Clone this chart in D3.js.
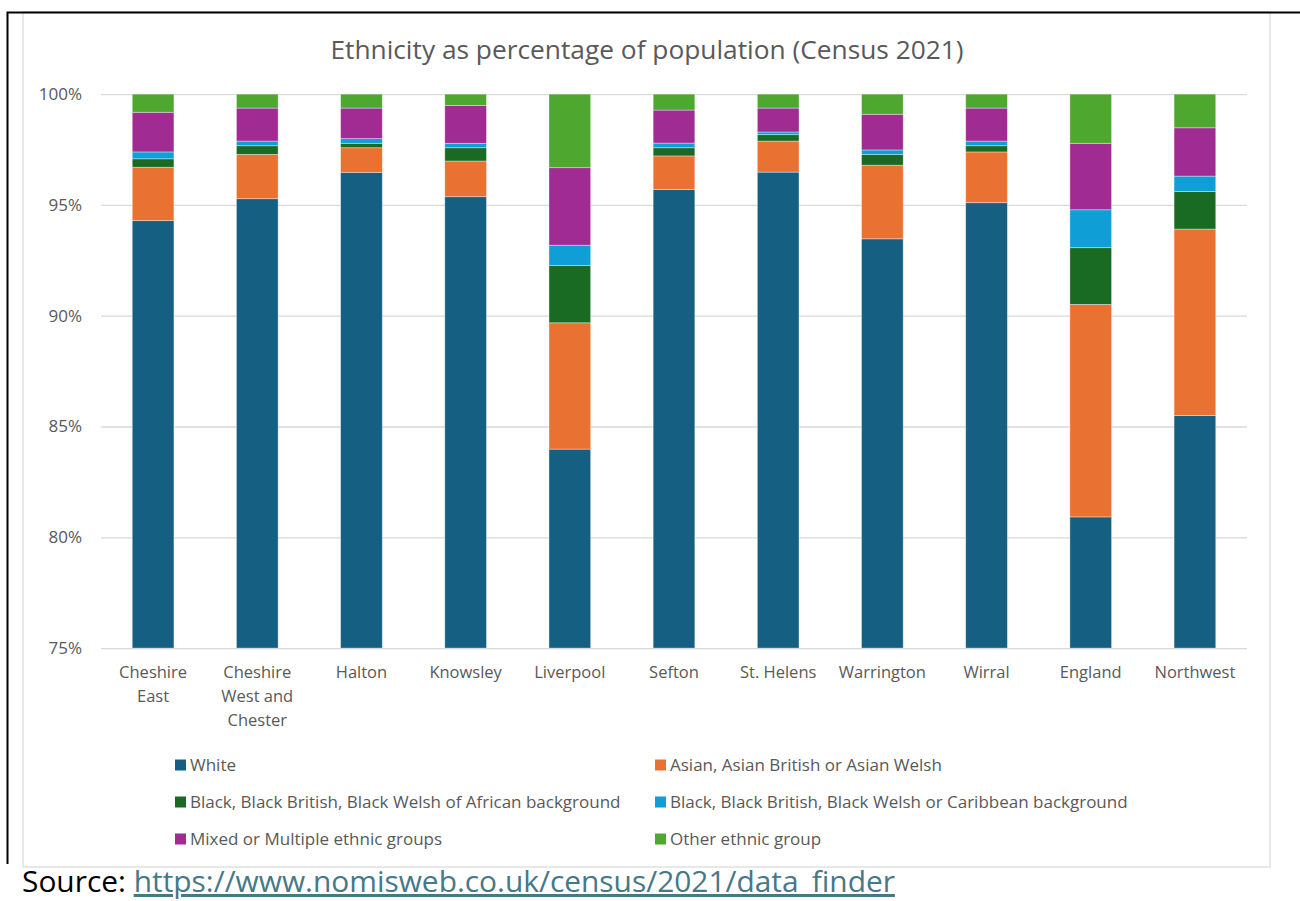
<!DOCTYPE html>
<html>
<head>
<meta charset="utf-8">
<script src="https://cdn.jsdelivr.net/npm/d3@7"></script>
<style>
  html, body { margin: 0; padding: 0; background: #fff; }
  svg { display: block; font-family: "Open Sans", "Noto Sans", sans-serif; }
</style>
</head>
<body>
<svg id="chart" width="1300" height="901"></svg>
<script>
// Census 2021 ethnicity shares (% of population) per area
const areas = ["Cheshire East", "Cheshire West and Chester", "Halton", "Knowsley", "Liverpool",
               "Sefton", "St. Helens", "Warrington", "Wirral", "England", "Northwest"];
const areaLines = [["Cheshire", "East"], ["Cheshire", "West and", "Chester"], ["Halton"], ["Knowsley"],
                   ["Liverpool"], ["Sefton"], ["St. Helens"], ["Warrington"], ["Wirral"], ["England"], ["Northwest"]];

const groups = ["White", "Asian, Asian British or Asian Welsh",
                "Black, Black British, Black Welsh of African background",
                "Black, Black British, Black Welsh or Caribbean background",
                "Mixed or Multiple ethnic groups", "Other ethnic group"];

const white     = [94.29, 95.28, 96.47, 95.37, 83.98, 95.69, 96.48, 93.47, 95.10, 80.92, 85.50];
const asian     = [2.41, 2.00, 1.11, 1.61, 5.70, 1.52, 1.40, 3.32, 2.29, 9.59, 8.41];
const african   = [0.38, 0.39, 0.20, 0.60, 2.58, 0.37, 0.29, 0.48, 0.28, 2.56, 1.69];
const caribbean = [0.31, 0.21, 0.21, 0.20, 0.92, 0.21, 0.12, 0.21, 0.21, 1.71, 0.70];
const mixed     = [1.79, 1.49, 1.38, 1.70, 3.50, 1.49, 1.08, 1.61, 1.49, 3.00, 2.18];
const other     = [0.82, 0.63, 0.63, 0.52, 3.32, 0.72, 0.63, 0.91, 0.63, 2.22, 1.52];

const yTicks = [75, 80, 85, 90, 95, 100];
const colors = ["#156082", "#E97132", "#196B24", "#0F9ED5", "#A02B93", "#4EA72E"];

const seriesValues = [white, asian, african, caribbean, mixed, other];
const rows = areas.map((a, i) => {
  const r = { area: a };
  groups.forEach((g, k) => { r[g] = seriesValues[k][i]; });
  return r;
});

const svg = d3.select("#chart");
const textColor = "#595959";

// frame
svg.append("rect").attr("x", 23).attr("y", 12).attr("width", 1247).attr("height", 855)
  .attr("fill", "#fff").attr("stroke", "#d9d9d9").attr("stroke-width", 1.2);
svg.append("path").attr("d", "M7.5,864 V12.5 H1300").attr("fill", "none")
  .attr("stroke", "#000").attr("stroke-width", 2);

const plotLeft = 101, plotRight = 1247, plotTop = 94.1, plotBottom = 648.1;

const x = d3.scaleBand().domain(areas).range([plotLeft, plotRight]).paddingInner(0.6).paddingOuter(0.3);
const y = d3.scaleLinear().domain([75, 100]).range([plotBottom, plotTop]);

// title
svg.append("text").attr("x", 647).attr("y", 59).attr("text-anchor", "middle")
  .attr("fill", textColor).attr("font-size", 26.3)
  .text("Ethnicity as percentage of population (Census 2021)");

// gridlines + y labels
const yAxis = d3.axisLeft(y).tickValues(yTicks).tickSize(-(plotRight - plotLeft)).tickPadding(19)
  .tickFormat(d => d + "%");
const gy = svg.append("g").attr("transform", `translate(${plotLeft},0)`).call(yAxis);
gy.select(".domain").remove();
gy.selectAll(".tick line").attr("stroke", "#d9d9d9").attr("stroke-width", 1.3);
gy.selectAll(".tick text").attr("fill", textColor).attr("font-size", 17)
  .attr("font-family", "\"Open Sans\", sans-serif");

// stacked bars
const stack = d3.stack().keys(groups).offset(d3.stackOffsetNone);
const stacked = stack(rows);
const clipId = "plotclip";
svg.append("clipPath").attr("id", clipId).append("rect")
  .attr("x", plotLeft).attr("y", plotTop - 1).attr("width", plotRight - plotLeft).attr("height", plotBottom - plotTop + 1);

const barsG = svg.append("g").attr("clip-path", `url(#${clipId})`);
barsG.selectAll("g.series").data(stacked).join("g")
  .attr("class", "series")
  .attr("fill", (d, i) => colors[i])
  .selectAll("rect").data(d => d).join("rect")
  .attr("x", d => x(d.data.area))
  .attr("width", x.bandwidth())
  .attr("y", d => y(Math.min(100, d[1])))
  .attr("height", d => Math.max(0, y(Math.max(75, d[0])) - y(Math.min(100, d[1]))))
  .attr("stroke", "#ffffff").attr("stroke-opacity", 0.45).attr("stroke-width", 0.8);

// x labels
const xl = svg.append("g");
areas.forEach((a, i) => {
  const cx = x(a) + x.bandwidth() / 2;
  const t = xl.append("text").attr("x", cx).attr("y", 678)
    .attr("text-anchor", "middle").attr("fill", textColor).attr("font-size", 16.5);
  areaLines[i].forEach((ln, j) => {
    t.append("tspan").attr("x", cx).attr("dy", j === 0 ? 0 : 24).text(ln);
  });
});

// legend
const legendPos = [[175, 765], [655, 765], [175, 802], [655, 802], [175, 839], [655, 839]];
const lg = svg.append("g");
groups.forEach((g, i) => {
  const [lx, ly] = legendPos[i];
  lg.append("rect").attr("x", lx).attr("y", ly - 5.5).attr("width", 11).attr("height", 11)
    .attr("fill", colors[i]);
  lg.append("text").attr("x", lx + 15).attr("y", ly + 6).attr("fill", textColor)
    .attr("font-size", 17).text(g);
});

// source line
const src = svg.append("text").attr("x", 22).attr("y", 892).attr("font-size", 29.9);
src.append("tspan").attr("fill", "#000").text("Source: ");
src.append("tspan").attr("fill", "#467886").attr("text-decoration", "underline")
  .text("https://www.nomisweb.co.uk/census/2021/data_finder");
</script>
</body>
</html>
